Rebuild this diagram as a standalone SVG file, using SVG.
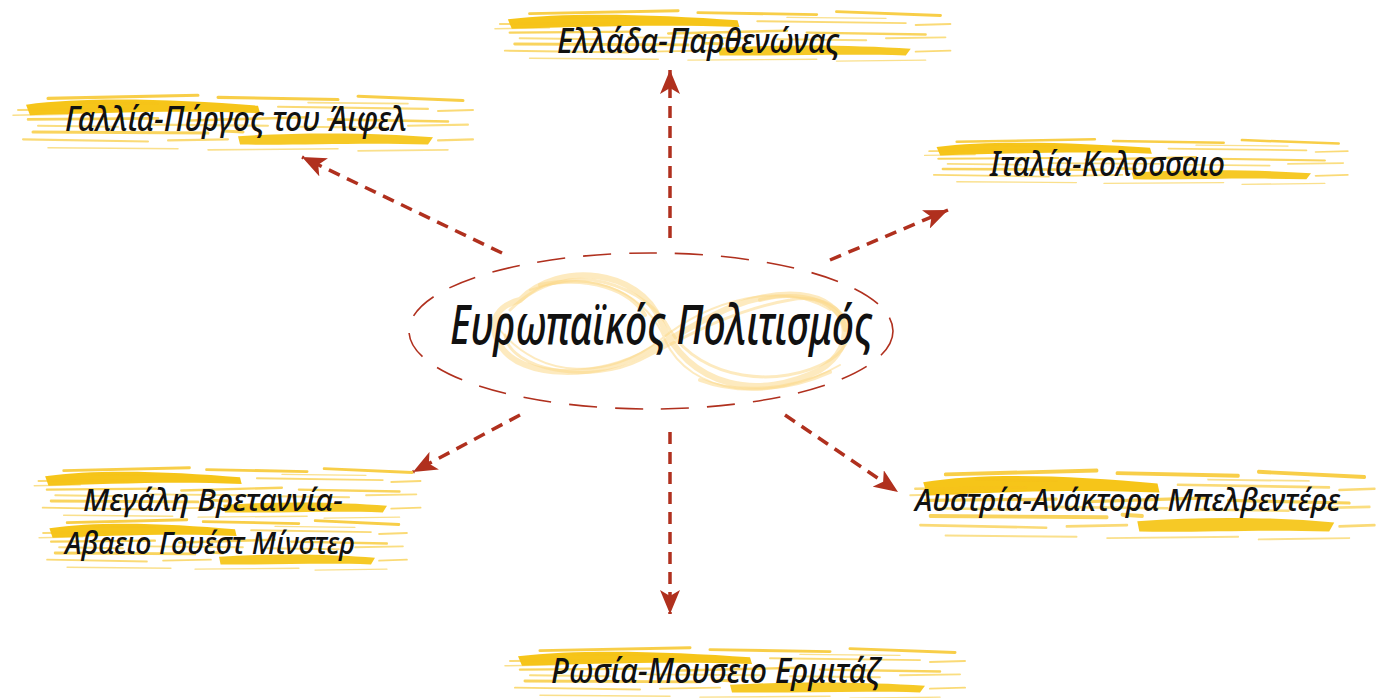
<svg xmlns="http://www.w3.org/2000/svg" xmlns:xlink="http://www.w3.org/1999/xlink" width="1385" height="698" viewBox="0 0 1385 698">
<style>
.lbl{font-family:"Noto Sans","Liberation Sans",sans-serif;font-style:italic;font-weight:500;font-size:35px;fill:#111;}
.lbl2{font-size:31px;}
.ctr{font-family:"Noto Sans","Liberation Sans",sans-serif;font-style:italic;font-weight:500;font-size:54px;fill:#111;}
.arr{fill:none;stroke:#b0301e;stroke-width:3.5;stroke-dasharray:12 8;marker-end:url(#ah);}
.st{fill:none;stroke:#f6c21a;stroke-linecap:round;}
.sc{fill:none;stroke:#fbd98a;stroke-linecap:round;opacity:0.55;}
</style>
<defs>
<marker id="ah" markerUnits="userSpaceOnUse" markerWidth="26" markerHeight="20" viewBox="0 0 26 20" refX="24" refY="10" orient="auto">
<path d="M0,0 L24,10 L0,20 L6,10 Z" fill="#b0301e"/>
</marker>
<g id="brush">
<path d="M18,14 C80,6 170,9 250,15 L252,22 C170,19 90,22 22,24 Z" fill="#f5bf00" opacity="0.9"/>
<path d="M230,44 C300,40 370,41 425,45 L420,52 C350,50 290,53 232,52 Z" fill="#f5bf00" opacity="0.85"/>
<path class="st" stroke-width="3" opacity="0.8" d="M40,8 L190,5 M210,7 L330,9 M350,6 L455,10"/>
<path class="st" stroke-width="2" opacity="0.6" d="M10,19 L120,18 M270,16 L420,18 M430,20 L465,19"/>
<path class="st" stroke-width="2.5" opacity="0.7" d="M20,28 L150,27 M180,29 L300,26 M320,28 L440,30"/>
<path class="st" stroke-width="2" opacity="0.55" d="M30,34 L110,35 M140,33 L260,34 M290,35 L380,36 M400,34 L460,33"/>
<path class="st" stroke-width="3" opacity="0.7" d="M25,40 L200,41 M215,39 L235,40"/>
<path class="st" stroke-width="2" opacity="0.6" d="M15,47 L140,49 M160,48 L220,47 M430,48 L465,47"/>
<path class="st" stroke-width="1.5" opacity="0.5" d="M40,55 L170,56 M200,57 L330,56 M350,58 L440,57"/>
<path class="st" stroke-width="1.5" opacity="0.5" d="M5,24 L60,23 M70,12 L150,13 M300,12 L400,13"/>
</g>
</defs>

<g id="connectors">
<line class="arr" x1="670" y1="238" x2="670" y2="70"/>
<line class="arr" x1="502" y1="253" x2="302" y2="157"/>
<line class="arr" x1="830" y1="260" x2="948" y2="210"/>
<line class="arr" x1="520" y1="415" x2="413" y2="472"/>
<line class="arr" x1="670" y1="432" x2="670" y2="614"/>
<line class="arr" x1="785" y1="415" x2="898" y2="492"/>
</g>

<g id="center">
<path class="sc" stroke-width="6" d="M520,300 C560,260 640,270 660,320 C690,390 760,400 820,370 C860,345 850,300 800,295 C740,290 690,330 650,350 C600,380 520,380 500,345 C485,320 500,305 520,300"/>
<path class="sc" stroke-width="3" d="M510,310 C570,250 650,290 670,330 C700,380 780,390 830,360 C870,335 840,290 790,300 C730,310 680,340 640,360 C590,385 510,370 505,335"/>
<path class="sc" stroke-width="2" d="M530,290 C600,265 650,300 665,340 C690,395 770,405 840,365 M500,330 C540,380 610,380 660,340 C710,300 780,280 830,310"/>
<path class="sc" stroke-width="4" d="M540,285 C590,275 630,290 645,315 M700,380 C740,395 790,390 830,372 M760,300 C800,290 840,300 845,330"/>
<ellipse cx="651" cy="331" rx="242" ry="78" fill="none" stroke="#b0301e" stroke-width="1.6" stroke-dasharray="28 18"/>
<text class="ctr" x="450" y="344" textLength="423" lengthAdjust="spacingAndGlyphs">Ευρωπαϊκός Πολιτισμός</text>
</g>

<g id="n-greece">
<use href="#brush" transform="translate(490,6) scale(0.99,0.95)"/>
<text class="lbl" x="557" y="53" textLength="283" lengthAdjust="spacingAndGlyphs">Ελλάδα-Παρθενώνας</text>
</g>

<g id="n-france">
<use href="#brush" transform="translate(8,90) scale(1.0,1.05)"/>
<text class="lbl" x="65" y="131" textLength="342" lengthAdjust="spacingAndGlyphs">Γαλλία-Πύργος του Άιφελ</text>
</g>

<g id="n-italy">
<use href="#brush" transform="translate(920,135) scale(0.92,0.85)"/>
<text class="lbl" x="990" y="176" textLength="235" lengthAdjust="spacingAndGlyphs">Ιταλία-Κολοσσαιο</text>
</g>

<g id="n-uk">
<use href="#brush" transform="translate(30,463) scale(0.84,0.95)"/>
<use href="#brush" transform="translate(35,515) scale(0.8,0.95)"/>
<text class="lbl lbl2" x="83" y="511" textLength="260" lengthAdjust="spacingAndGlyphs">Μεγάλη Βρεταννία-</text>
<text class="lbl lbl2" x="65" y="554" textLength="290" lengthAdjust="spacingAndGlyphs">Αβαειο Γουέστ Μίνστερ</text>
</g>

<g id="n-austria">
<use href="#brush" transform="translate(905,464) scale(1.01,1.3)"/>
<text class="lbl lbl2" x="915" y="511" textLength="425" lengthAdjust="spacingAndGlyphs">Αυστρία-Ανάκτορα Μπελβεντέρε</text>
</g>

<g id="n-russia">
<use href="#brush" transform="translate(500,643) scale(1.0,0.95)"/>
<text class="lbl" x="551" y="683" textLength="328" lengthAdjust="spacingAndGlyphs">Ρωσία-Μουσειο Ερμιτάζ</text>
</g>
</svg>
